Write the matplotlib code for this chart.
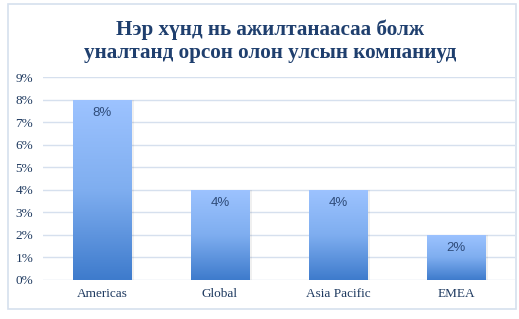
import numpy as np
import matplotlib.pyplot as plt
from matplotlib.patches import Rectangle
from matplotlib.colors import LinearSegmentedColormap
from matplotlib.ticker import FuncFormatter

categories = ['Americas', 'Global', 'Asia Pacific', 'EMEA']
values = [8, 4, 4, 2]
title = 'Нэр хүнд нь ажилтанаасаа болж\nуналтанд орсон олон улсын компаниуд'

fig = plt.figure(figsize=(5.19, 3.19), dpi=100)
fig.patches.append(Rectangle((8 / 519, 10 / 319), 508 / 519, 305 / 319,
                             transform=fig.transFigure, fill=False,
                             edgecolor='#D6E0EE', linewidth=1.2))

ax = fig.add_axes([43 / 519, 39 / 319, 472 / 519, 203 / 319])
x = np.arange(len(categories))
ax.set_xlim(-0.5, len(categories) - 0.5)
ax.set_ylim(0, 9)

cmap = LinearSegmentedColormap.from_list('g', ['#3E7BCC', '#7FAEF0', '#9DC3FF'])
grad = np.linspace(0, 1, 256).reshape(-1, 1)
bars = ax.bar(x, values, width=0.5, color='none', zorder=3)
for b, v in zip(bars, values):
    x0, w, h = b.get_x(), b.get_width(), b.get_height()
    # faint shadow
    ax.add_patch(Rectangle((x0 + 0.02, 0), w, h, facecolor='#000000', alpha=0.06,
                           edgecolor='none', zorder=2))
    im = ax.imshow(grad, extent=[x0, x0 + w, 0, h], origin='lower', cmap=cmap,
                   aspect='auto', zorder=3)
    im.set_clip_path(b)
    ax.text(b.get_x() + w / 2, h - 0.33, f'{v}%', ha='center', va='top',
            fontsize=9.5, color='#2F4C7A', family='Liberation Sans', zorder=4)

ax.set_xticks(x)
ax.set_xticklabels(categories, family='Liberation Serif', fontsize=9.5, color='#1F3A60')
ax.set_yticks(range(10))
ax.yaxis.set_major_formatter(FuncFormatter(lambda v, p: f'{int(v)}%'))
for t in ax.get_yticklabels():
    t.set_family('Liberation Serif')
    t.set_fontsize(9.5)
    t.set_color('#1F3A60')
ax.tick_params(axis='x', length=0, pad=6)
ax.tick_params(axis='y', length=0, pad=7)
ax.grid(axis='y', color='#D6E0EE', linewidth=1, zorder=0)
for s in ax.spines.values():
    s.set_visible(False)
ax.set_facecolor('none')

fig.text(270 / 519, (319 - 41) / 319, title, ha='center', va='center',
         fontsize=15.2, fontweight='bold', family='Liberation Serif', color='#1F3F6E',
         linespacing=1.2)

fig.savefig('out.png', dpi=100)
